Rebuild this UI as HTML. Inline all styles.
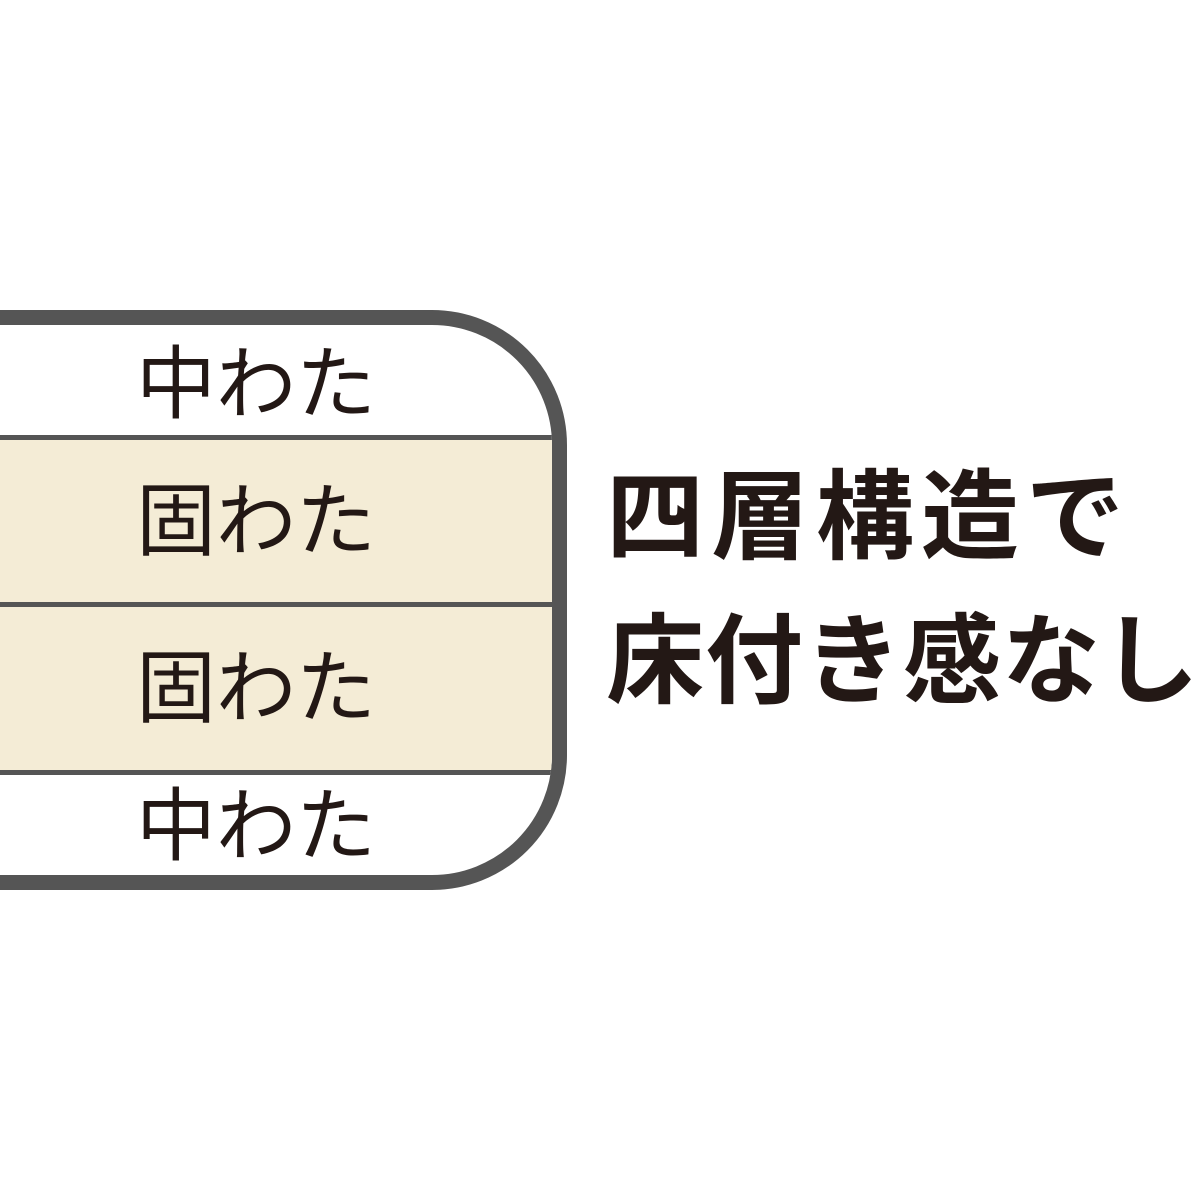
<!DOCTYPE html>
<html><head><meta charset="utf-8"><style>
html,body{margin:0;padding:0;background:#fff;}
body{width:1200px;height:1200px;position:relative;overflow:hidden;font-family:"Liberation Sans","Noto Sans CJK JP",sans-serif;color:#231815;}
.box{position:absolute;left:-200px;top:310px;width:737px;height:550px;border:15px solid #555;border-radius:0 135px 135px 0;overflow:hidden;background:#fff;}
.band{position:absolute;left:0;width:100%;background:#f4ecd6;}
.line{position:absolute;left:0;width:100%;height:5px;background:#555;}
.l{position:absolute;left:136px;width:240px;text-align:center;font-size:80px;font-weight:400;line-height:1;white-space:nowrap;}
.r{position:absolute;left:606px;font-size:98px;font-weight:700;line-height:1;white-space:nowrap;}
</style></head><body>
<div class="box">
  <div class="band" style="top:115px;height:330px"></div>
  <div class="line" style="top:110px"></div>
  <div class="line" style="top:277px"></div>
  <div class="line" style="top:445px"></div>
</div>
<div class="l" style="top:345px">中わた</div>
<div class="l" style="top:482px">固わた</div>
<div class="l" style="top:649px">固わた</div>
<div class="l" style="top:787px">中わた</div>
<div class="r" style="top:468px;letter-spacing:7px">四層構造で</div>
<div class="r" style="top:612px;letter-spacing:1px">床付き感なし</div>
</body></html>
